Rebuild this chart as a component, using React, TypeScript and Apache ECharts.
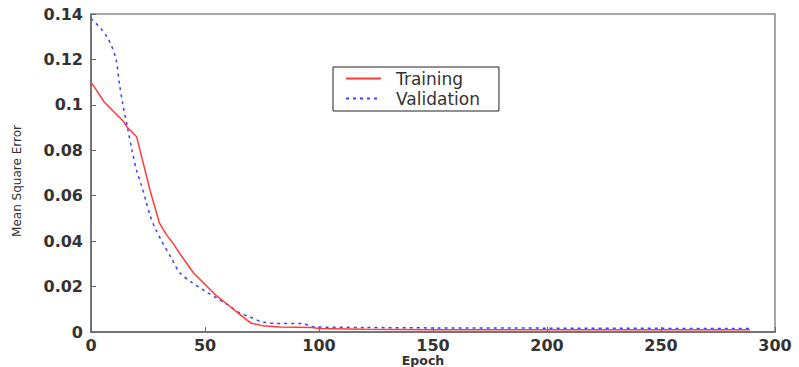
import React, { useEffect, useRef } from "react";
import * as echarts from "echarts";

const trainEpochs = [0, 2, 4, 6, 8, 10, 12, 14, 16, 18, 20, 22, 24, 26, 28, 30, 33, 36, 40, 45, 50, 55, 60, 65, 70, 75, 83, 97, 100, 120, 150, 200, 250, 289];
const trainMse = [0.110, 0.107, 0.104, 0.101, 0.099, 0.097, 0.095, 0.093, 0.090, 0.088, 0.086, 0.078, 0.070, 0.062, 0.055, 0.048, 0.043, 0.039, 0.033, 0.026, 0.021, 0.016, 0.012, 0.008, 0.004, 0.0028, 0.0022, 0.0020, 0.0015, 0.0012, 0.0010, 0.0010, 0.0010, 0.0010];

const valEpochs = [0, 4, 7, 9, 11, 12.5, 14, 16, 18, 20, 22, 24, 26, 28, 31, 35, 39, 44, 50, 55, 60, 65, 70, 75, 80, 93, 97, 120, 150, 200, 250, 289];
const valMse = [0.138, 0.134, 0.130, 0.126, 0.120, 0.109, 0.100, 0.090, 0.080, 0.071, 0.065, 0.058, 0.051, 0.046, 0.040, 0.033, 0.026, 0.022, 0.018, 0.015, 0.012, 0.0085, 0.0065, 0.0045, 0.0038, 0.0037, 0.0023, 0.0020, 0.0018, 0.0017, 0.0016, 0.0015];

const xTicks = [0, 50, 100, 150, 200, 250, 300];
const yTicks = [0, 0.02, 0.04, 0.06, 0.08, 0.1, 0.12, 0.14];

const seriesNames = ["Training", "Validation"];
const xTitle = "Epoch";
const yTitle = "Mean Square Error";

export default function App() {
  const ref = useRef<HTMLDivElement>(null);
  useEffect(() => {
    if (!ref.current) return;
    const chart = echarts.init(ref.current, undefined, { renderer: "svg" });
    const font = "DejaVu Sans, sans-serif";
    chart.setOption({
      animation: false,
      backgroundColor: "#fff",
      grid: {
        left: 91,
        top: 14,
        right: 24,
        bottom: 35,
        show: true,
        borderColor: "#888",
        borderWidth: 1.5,
        backgroundColor: "transparent",
      },
      legend: {
        orient: "vertical",
        left: 333,
        top: 67,
        backgroundColor: "#fff",
        borderColor: "#222",
        borderWidth: 1,
        padding: [3, 19, 4, 12],
        itemWidth: 35,
        itemHeight: 12,
        itemGap: 3,
        itemStyle: { opacity: 0 },
        textStyle: { fontFamily: font, fontSize: 17, lineHeight: 17, color: "#333", padding: [0, 0, 0, 10] },
        data: seriesNames,
      },
      graphic: [
        {
          type: "text",
          x: 423,
          y: 360,
          style: {
            text: xTitle,
            fontFamily: font,
            fontSize: 12.5,
            fontWeight: "bold",
            fill: "#333",
            align: "center",
            verticalAlign: "middle",
          },
        },
        {
          type: "text",
          x: 17,
          y: 181,
          rotation: Math.PI / 2,
          style: {
            text: yTitle,
            fontFamily: font,
            fontSize: 12,
            fill: "#333",
            align: "center",
            verticalAlign: "middle",
          },
        },
      ],
      xAxis: {
        type: "value",
        min: xTicks[0],
        max: xTicks[xTicks.length - 1],
        interval: 50,
        axisLine: { lineStyle: { color: "#666", width: 1.5 } },
        axisTick: { inside: true, length: 5, lineStyle: { color: "#666" } },
        axisLabel: {
          fontFamily: font,
          fontSize: 16,
          fontWeight: "bold",
          color: "#333",
          margin: 5,
          customValues: xTicks,
        },
        splitLine: { show: false },
      },
      yAxis: {
        type: "value",
        min: yTicks[0],
        max: yTicks[yTicks.length - 1],
        interval: 0.02,
        axisLine: { lineStyle: { color: "#666", width: 1.5 } },
        axisTick: { inside: true, length: 5, lineStyle: { color: "#666" } },
        axisLabel: {
          fontFamily: font,
          fontSize: 16,
          fontWeight: "bold",
          color: "#333",
          margin: 8,
          formatter: (v: number) => String(Math.round(v * 100) / 100),
        },
        splitLine: { show: false },
      },
      series: [
        {
          name: seriesNames[0],
          type: "line",
          showSymbol: false,
          symbol: "none",
          data: trainEpochs.map((e, i) => [e, trainMse[i]]),
          lineStyle: { color: "#ff3b3b", width: 1.5 },
          itemStyle: { color: "#ff3b3b" },
          z: 3,
        },
        {
          name: seriesNames[1],
          type: "line",
          showSymbol: false,
          symbol: "none",
          smooth: 0.3,
          data: valEpochs.map((e, i) => [e, valMse[i]]),
          lineStyle: { color: "#3344ff", width: 1.5, type: [3, 4] },
          itemStyle: { color: "#3344ff" },
          z: 2,
        },
      ],
    });
    return () => chart.dispose();
  }, []);
  return <div ref={ref} style={{ position: "absolute", left: 0, top: 0, width: 799, height: 367 }} />;
}
